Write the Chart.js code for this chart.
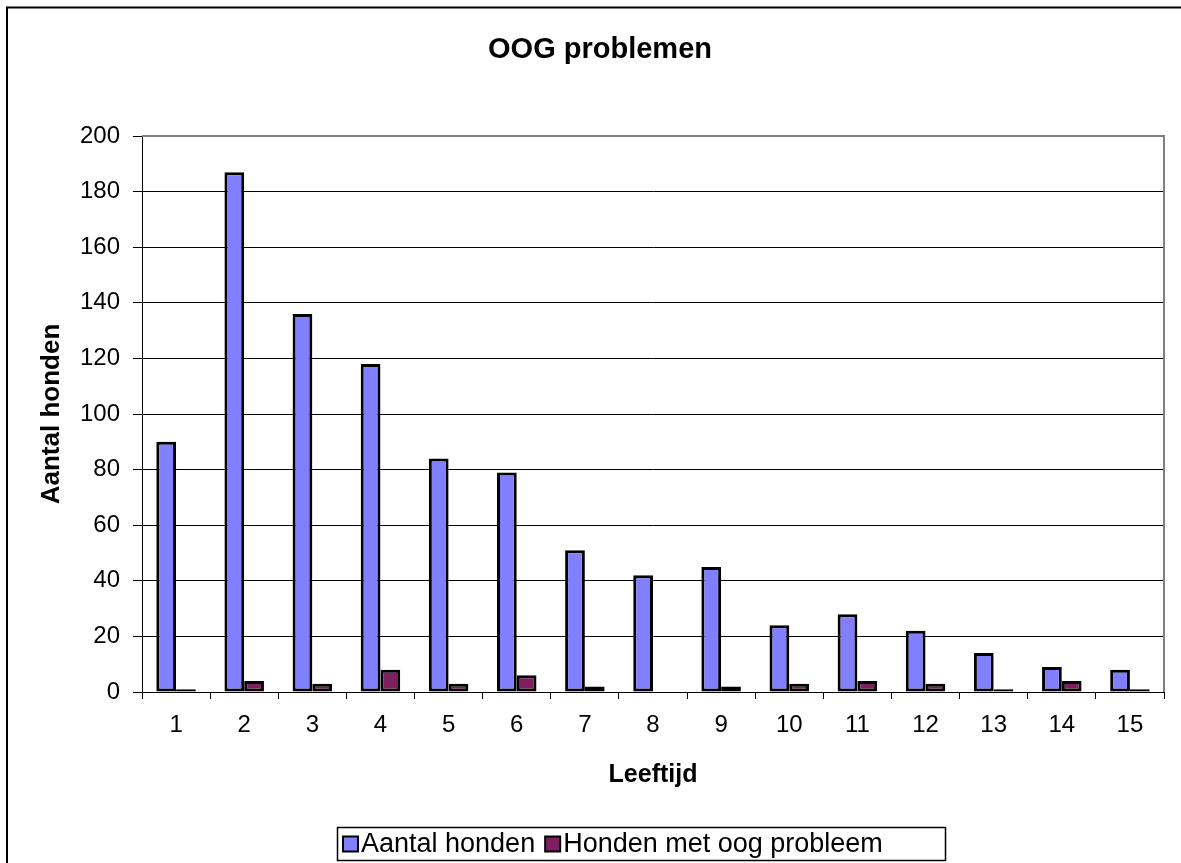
<!DOCTYPE html>
<html>
<head>
<meta charset="utf-8">
<script src="https://cdn.jsdelivr.net/npm/chart.js@4/dist/chart.umd.min.js"></script>
<style>
html,body{margin:0;padding:0;background:#fff;}
canvas{display:block;}
</style>
</head>
<body>
<canvas id="c" width="1181" height="863"></canvas>
<script>
// ---- data ----
const categories = ['1','2','3','4','5','6','7','8','9','10','11','12','13','14','15'];
const aantalHonden = [90,187,136,118,84,79,51,42,45,24,28,22,14,9,8];
const hondenMetOogProbleem = [1,4,3,8,3,6,2,0,2,3,4,3,1,4,1];
const seriesNames = ['Aantal honden','Honden met oog probleem'];
const yMin = 0, yMax = 200, yStep = 20;
const chartTitle = 'OOG problemen';
const xTitle = 'Leeftijd';
const yTitle = 'Aantal honden';

const FONT = "'Liberation Sans', Arial, Helvetica, sans-serif";
const colors = ['#8080FF', '#801F5F'];

const frameAndBorders = {
  id: 'frameAndBorders',
  afterDraw(chart) {
    const ctx = chart.ctx, a = chart.chartArea;
    ctx.save();
    // outer frame (extends beyond right/bottom)
    ctx.strokeStyle = '#000';
    ctx.lineWidth = 2;
    ctx.strokeRect(7, 7.5, 1300, 1000);
    // plot area top/right border (gray)
    ctx.strokeStyle = '#808080';
    ctx.lineWidth = 2;
    ctx.beginPath();
    ctx.moveTo(a.left, a.top);
    ctx.lineTo(a.right, a.top);
    ctx.lineTo(a.right, a.bottom);
    ctx.stroke();
    // custom legend
    ctx.font = '27px ' + FONT;
    ctx.textBaseline = 'middle';
    const boxLeft = 337, boxRight = 945, boxTop = 827, boxH = 33;
    const cy = boxTop + boxH / 2;
    let x = boxLeft + 6;
    chart.data.datasets.forEach((ds, i) => {
      ctx.fillStyle = ds.backgroundColor;
      ctx.fillRect(x, cy - 7, 15, 15);
      ctx.strokeStyle = '#000';
      ctx.lineWidth = 2;
      ctx.strokeRect(x, cy - 7, 15, 15);
      x += 18;
      ctx.fillStyle = '#000';
      ctx.fillText(ds.label, x, cy + 1);
      x += ctx.measureText(ds.label).width + 10;
    });
    ctx.strokeStyle = '#000';
    ctx.lineWidth = 1.5;
    ctx.strokeRect(boxLeft + 0.5, boxTop + 0.5, boxRight - boxLeft, boxH);
    ctx.restore();
  }
};

new Chart(document.getElementById('c'), {
  type: 'bar',
  data: {
    labels: categories,
    datasets: [
      { label: seriesNames[0], data: aantalHonden, backgroundColor: colors[0], borderColor: '#000', borderWidth: 3, borderSkipped: false },
      { label: seriesNames[1], data: hondenMetOogProbleem, backgroundColor: colors[1], borderColor: '#000', borderWidth: 3, borderSkipped: false }
    ]
  },
  options: {
    responsive: false,
    animation: false,
    devicePixelRatio: 1,
    layout: { padding: { left: 36, right: 17, top: 0, bottom: 73 } },
    datasets: { bar: { categoryPercentage: 0.58, barPercentage: 1.0 } },
    plugins: {
      legend: { display: false },
      tooltip: { enabled: false },
      title: {
        display: true,
        text: chartTitle,
        color: '#000',
        font: { family: FONT, size: 29, weight: 'bold', lineHeight: 1.2 },
        padding: { top: 33, bottom: 68.2 }
      }
    },
    scales: {
      x: {
        grid: { display: true, drawOnChartArea: false, offset: true, tickLength: 7, color: '#000', tickColor: '#000' },
        border: { display: true, color: '#000', width: 1 },
        ticks: { color: '#000', font: { family: FONT, size: 24 }, padding: 12, maxRotation: 0 },
        title: { display: true, text: xTitle, color: '#000', font: { family: FONT, size: 25, weight: 'bold', lineHeight: 1.2 }, padding: 0 },
        afterFit(scale) { scale.height = 98; }
      },
      y: {
        min: yMin, max: yMax,
        grid: { color: '#000', lineWidth: 1, tickLength: 9, tickColor: '#000' },
        border: { display: true, color: '#000', width: 1 },
        ticks: { stepSize: yStep, color: '#000', font: { family: FONT, size: 24 }, padding: 13 },
        title: { display: true, text: yTitle, color: '#000', font: { family: FONT, size: 26, weight: 'bold', lineHeight: 1.2 }, padding: 0 },
        afterFit(scale) { scale.width = 106; }
      }
    }
  },
  plugins: [frameAndBorders]
});
</script>
</body>
</html>
